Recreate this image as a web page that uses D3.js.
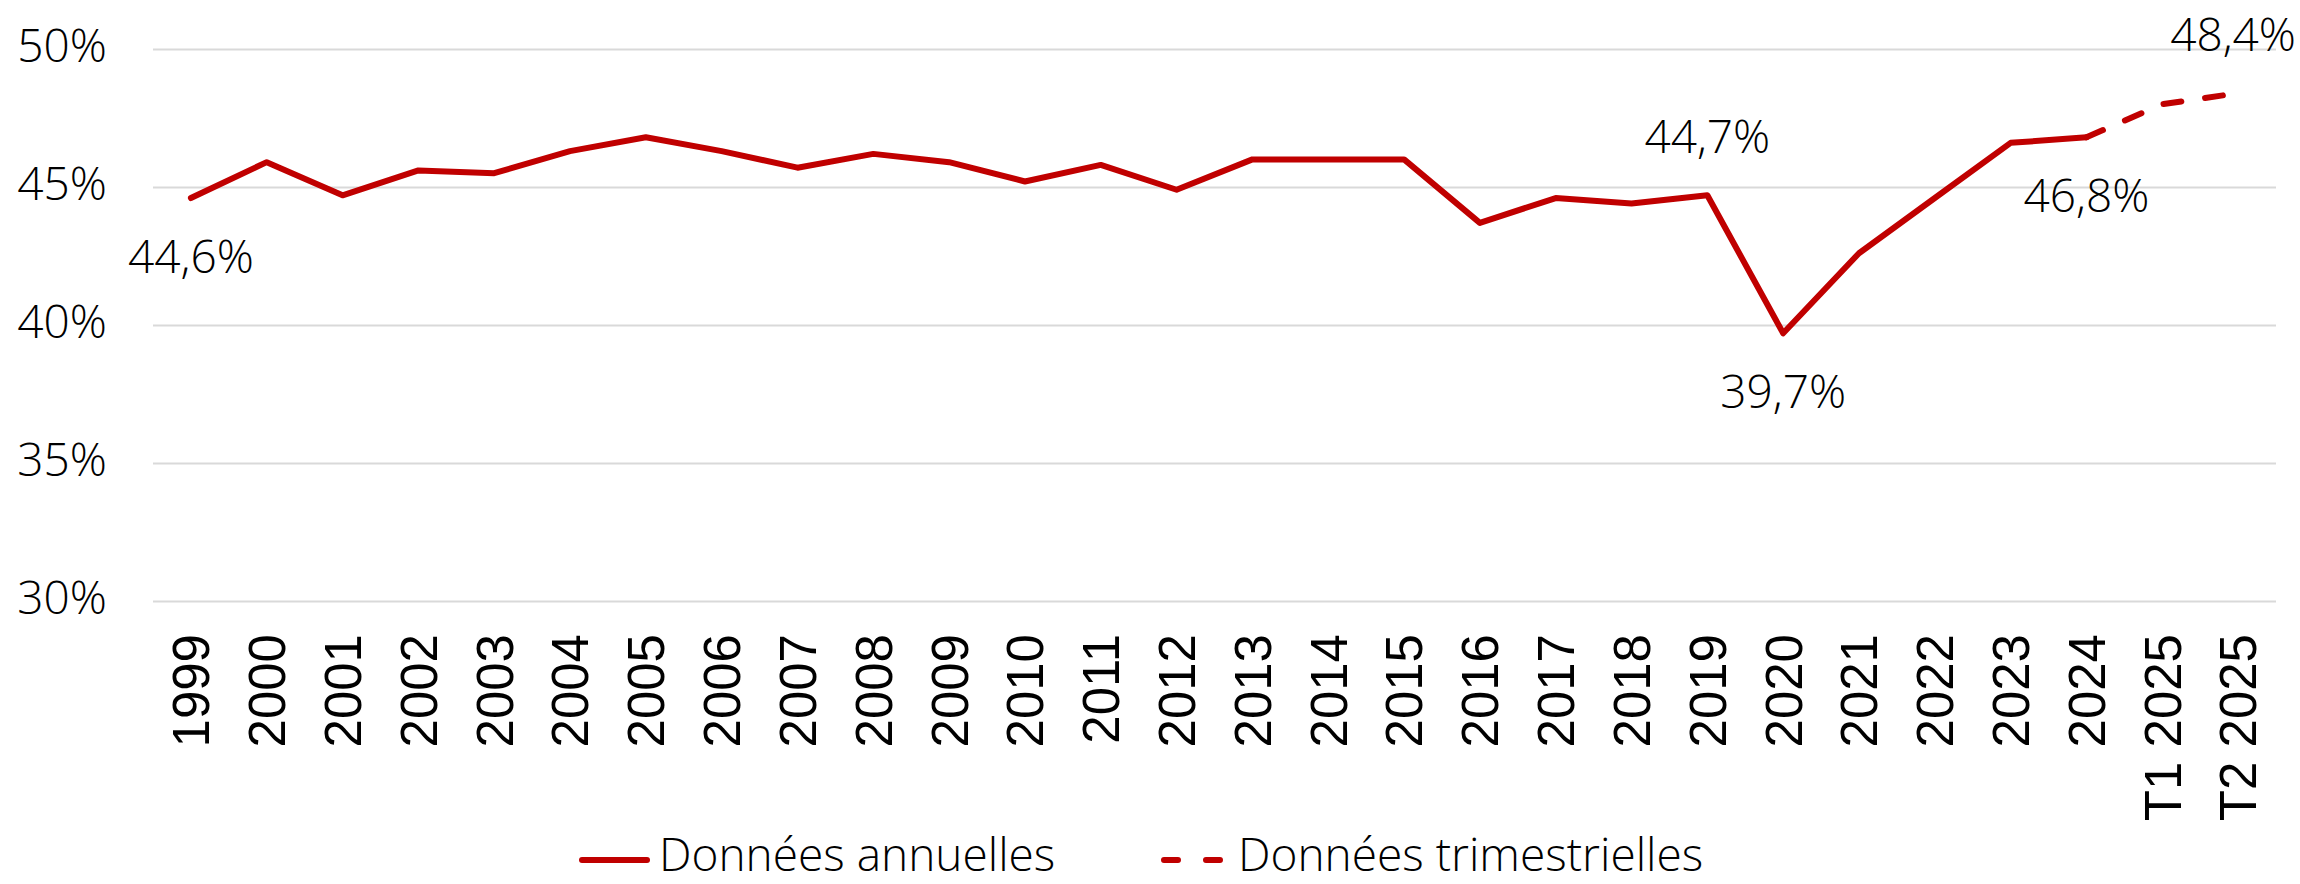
<!DOCTYPE html>
<html>
<head>
<meta charset="utf-8">
<script src="https://cdn.jsdelivr.net/npm/d3@7"></script>
<style>
  body { margin: 0; background: #fff; }
  svg { display: block; }
  .lbl { font-family: "Open Sans", "Noto Sans", sans-serif; font-weight: 300; font-size: 46px; fill: #000; }
  .xlab { font-family: "Liberation Sans Narrow", "Arial Narrow", "Liberation Sans", sans-serif; font-size: 51px; fill: #000; }
</style>
</head>
<body>
<svg id="chart"></svg>
<script>
// categories (années puis trimestres 2025)
var categories = ["1999","2000","2001","2002","2003","2004","2005","2006","2007","2008",
  "2009","2010","2011","2012","2013","2014","2015","2016","2017","2018","2019","2020",
  "2021","2022","2023","2024","T1 2025","T2 2025"];

// données annuelles 1999-2024 (%)
var anneesAnnuelles = categories.slice(0, 26);
var valeursAnnuelles = [44.6, 45.9, 44.7, 45.6, 45.5, 46.3, 46.8, 46.3, 45.7, 46.2,
  45.9, 45.2, 45.8, 44.9, 46.0, 46.0, 46.0, 43.7, 44.6, 44.4, 44.7, 39.7,
  42.6, 44.6, 46.6, 46.8];

// données trimestrielles (raccordées au point 2024)
var periodesTrim = ["2024", "T1 2025", "T2 2025"];
var valeursTrim = [46.8, 48.0, 48.4];

var yTicks = [30, 35, 40, 45, 50];

// étiquettes de données
var etiquettesCat = ["1999", "2019", "2020", "2024", "T2 2025"];
var etiquettesVal = [44.6, 44.7, 39.7, 46.8, 48.4];
var etiquettesPos = ["dessous", "dessus", "dessous", "dessous", "dessus"];

var legendeNoms = ["Données annuelles", "Données trimestrielles"];

var W = 2300, H = 884;
var rouge = "#C00000";

var svg = d3.select("#chart").attr("width", W).attr("height", H);

var x = d3.scaleBand().domain(categories).range([153, 2276]).padding(0);
var y = d3.scaleLinear().domain([30, 50]).range([601, 49]);
var cx = function (c) { return x(c) + x.bandwidth() / 2; };

// axe Y + quadrillage
var axeY = svg.append("g")
  .attr("transform", "translate(153,0)")
  .call(d3.axisLeft(y).tickValues(yTicks).tickSize(-(2276 - 153)).tickPadding(46)
    .tickFormat(function (d) { return d + "%"; }));
axeY.select(".domain").remove();
axeY.selectAll("line").attr("stroke", "#d9d9d9").attr("stroke-width", 2);
axeY.selectAll("text").attr("class", "lbl").attr("dy", "0.28em");

// axe X (étiquettes verticales)
var axeX = svg.append("g")
  .attr("transform", "translate(0,601)")
  .call(d3.axisBottom(x).tickSize(0));
axeX.select(".domain").remove();
axeX.selectAll("text")
  .attr("class", "xlab")
  .attr("transform", "rotate(-90)")
  .attr("text-anchor", "end")
  .attr("x", -33)
  .attr("y", 0)
  .attr("dy", "0.36em");

// courbes
var ligne = d3.line().x(function (d) { return cx(d[0]); }).y(function (d) { return y(d[1]); });

svg.append("path")
  .datum(d3.zip(anneesAnnuelles, valeursAnnuelles))
  .attr("d", ligne)
  .attr("fill", "none")
  .attr("stroke", rouge)
  .attr("stroke-width", 6)
  .attr("stroke-linejoin", "round")
  .attr("stroke-linecap", "round");

svg.append("path")
  .datum(d3.zip(periodesTrim, valeursTrim))
  .attr("d", ligne)
  .attr("fill", "none")
  .attr("stroke", rouge)
  .attr("stroke-width", 6)
  .attr("stroke-linejoin", "round")
  .attr("stroke-linecap", "round")
  .attr("stroke-dasharray", "18,24");

// étiquettes
svg.selectAll(".etiq")
  .data(d3.range(etiquettesCat.length))
  .enter()
  .append("text")
  .attr("class", "lbl etiq")
  .attr("text-anchor", "middle")
  .attr("x", function (i) { return cx(etiquettesCat[i]); })
  .attr("y", function (i) {
    return y(etiquettesVal[i]) + (etiquettesPos[i] === "dessous" ? 75 : -42);
  })
  .text(function (i) { return etiquettesVal[i].toFixed(1).replace(".", ",") + "%"; })
  .each(function () {
    // ne pas déborder à droite
    var b = this.getBBox();
    if (b.x + b.width > W - 4) {
      d3.select(this).attr("x", +d3.select(this).attr("x") - (b.x + b.width - (W - 4)));
    }
  });

// légende
var leg = svg.append("g").attr("transform", "translate(0,860)");
leg.append("line").attr("x1", 582).attr("x2", 647).attr("y1", 0).attr("y2", 0)
  .attr("stroke", rouge).attr("stroke-width", 6).attr("stroke-linecap", "round");
leg.append("text").attr("class", "lbl").attr("x", 659).attr("y", 11).text(legendeNoms[0]);
leg.append("line").attr("x1", 1164).attr("x2", 1222).attr("y1", 0).attr("y2", 0)
  .attr("stroke", rouge).attr("stroke-width", 6).attr("stroke-linecap", "round")
  .attr("stroke-dasharray", "14,28");
leg.append("text").attr("class", "lbl").attr("x", 1238).attr("y", 11).text(legendeNoms[1]);
</script>
</body>
</html>
